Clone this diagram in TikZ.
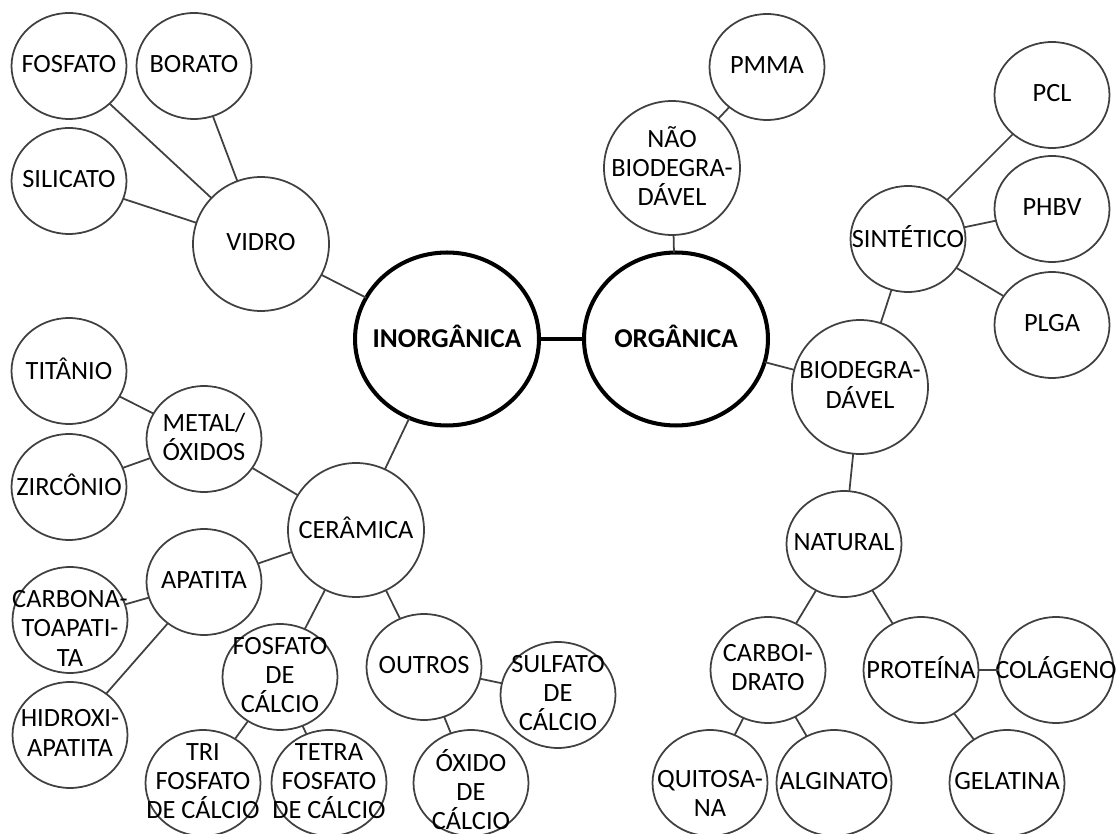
\documentclass[tikz,border=0pt]{standalone}
\usepackage{fontspec}
\setmainfont{Carlito}
\usetikzlibrary{shapes.geometric}
\tikzset{
  bub/.style={ellipse,draw=black!75,line width=1pt,fill=white,inner sep=0pt,outer sep=0pt,minimum width=2.3cm,minimum height=2.12cm},
  midbub/.style={bub,minimum width=2.72cm,minimum height=2.68cm},
  bigbub/.style={ellipse,draw=black,line width=2.3pt,fill=white,inner sep=0pt,outer sep=0pt,minimum width=3.68cm,minimum height=3.46cm},
  txt/.style={align=center,text=black,inner sep=0pt,yshift=1.2pt,font=\fontsize{15}{16.6}\selectfont},
  bigtxt/.style={txt,font=\fontsize{15.5}{16}\selectfont\bfseries},
  link/.style={draw=black!75,line width=1pt},
  biglink/.style={draw=black,line width=2.3pt}
}
\begin{document}
\begin{tikzpicture}[x=0.02cm,y=-0.02cm]
\useasboundingbox (0,0) rectangle (1117,834);
\node[bigbub,label={[bigtxt]center:INORGÂNICA}] (inorg) at (447,339) {};
\node[bigbub,label={[bigtxt]center:ORGÂNICA}] (org) at (676,339) {};
\node[midbub,label={[txt]center:VIDRO}] (vidro) at (261,244) {};
\node[bub,label={[txt]center:FOSFATO}] (fosfato) at (69,66) {};
\node[bub,label={[txt]center:BORATO}] (borato) at (194,66) {};
\node[bub,label={[txt]center:SILICATO}] (silicato) at (69,181) {};
\node[midbub,label={[txt]center:CERÂMICA}] (ceramica) at (356,530) {};
\node[bub,label={[txt]center:METAL/\\ÓXIDOS}] (metal) at (204,439) {};
\node[bub,label={[txt]center:TITÂNIO}] (titanio) at (69,371) {};
\node[bub,label={[txt]center:ZIRCÔNIO}] (zirconio) at (69,487) {};
\node[bub,label={[txt]center:APATITA}] (apatita) at (204,582) {};
\node[bub,label={[txt,yshift=-6pt]center:CARBONA-\\TOAPATI-\\TA}] (carbonato) at (70,620) {};
\node[bub,label={[txt]center:HIDROXI-\\APATITA}] (hidroxi) at (70,735) {};
\node[bub,label={[txt]center:FOSFATO\\DE\\CÁLCIO}] (fosfcalcio) at (280,677) {};
\node[bub,label={[txt]center:TRI\\FOSFATO\\DE CÁLCIO}] (tri) at (203,783) {};
\node[bub,label={[txt]center:TETRA\\FOSFATO\\DE CÁLCIO}] (tetra) at (329,783) {};
\node[bub,label={[txt]center:OUTROS}] (outros) at (424,667) {};
\node[bub,label={[txt]center:SULFATO\\DE\\CÁLCIO}] (sulfato) at (558,695) {};
\node[bub,label={[txt,yshift=-5pt]center:ÓXIDO\\DE\\CÁLCIO}] (oxido) at (471,783) {};
\node[midbub,label={[txt]center:NÃO\\BIODEGRA-\\DÁVEL}] (naobio) at (672,168) {};
\node[bub,label={[txt]center:PMMA}] (pmma) at (767,67) {};
\node[midbub,label={[txt]center:BIODEGRA-\\DÁVEL}] (bio) at (860,387) {};
\node[bub,label={[txt]center:SINTÉTICO}] (sintetico) at (908,239) {};
\node[bub,label={[txt]center:PCL}] (pcl) at (1052,95) {};
\node[bub,label={[txt]center:PHBV}] (phbv) at (1052,209) {};
\node[bub,label={[txt]center:PLGA}] (plga) at (1052,325) {};
\node[bub,label={[txt]center:NATURAL}] (natural) at (844,544) {};
\node[bub,label={[txt]center:CARBOI-\\DRATO}] (carboidrato) at (768,670) {};
\node[bub,label={[txt]center:PROTEÍNA}] (proteina) at (921,670) {};
\node[bub,label={[txt]center:COLÁGENO}] (colageno) at (1056,670) {};
\node[bub,label={[txt,yshift=-7pt]center:QUITOSA-\\NA}] (quitosana) at (710,783) {};
\node[bub,label={[txt]center:ALGINATO}] (alginato) at (834,783) {};
\node[bub,label={[txt]center:GELATINA}] (gelatina) at (1007,783) {};
\draw[biglink] (inorg) -- (org);
\draw[link] (vidro) -- (fosfato);
\draw[link] (vidro) -- (borato);
\draw[link] (vidro) -- (silicato);
\draw[link] (vidro) -- (inorg);
\draw[link] (inorg) -- (ceramica);
\draw[link] (ceramica) -- (metal);
\draw[link] (ceramica) -- (apatita);
\draw[link] (ceramica) -- (fosfcalcio);
\draw[link] (ceramica) -- (outros);
\draw[link] (metal) -- (titanio);
\draw[link] (metal) -- (zirconio);
\draw[link] (apatita) -- (carbonato);
\draw[link] (apatita) -- (hidroxi);
\draw[link] (fosfcalcio) -- (tri);
\draw[link] (fosfcalcio) -- (tetra);
\draw[link] (outros) -- (sulfato);
\draw[link] (outros) -- (oxido);
\draw[link] (org) -- (naobio);
\draw[link] (naobio) -- (pmma);
\draw[link] (org) -- (bio);
\draw[link] (bio) -- (sintetico);
\draw[link] (sintetico) -- (pcl);
\draw[link] (sintetico) -- (phbv);
\draw[link] (sintetico) -- (plga);
\draw[link] (bio) -- (natural);
\draw[link] (natural) -- (carboidrato);
\draw[link] (natural) -- (proteina);
\draw[link] (proteina) -- (colageno);
\draw[link] (proteina) -- (gelatina);
\draw[link] (carboidrato) -- (quitosana);
\draw[link] (carboidrato) -- (alginato);
\end{tikzpicture}
\end{document}
